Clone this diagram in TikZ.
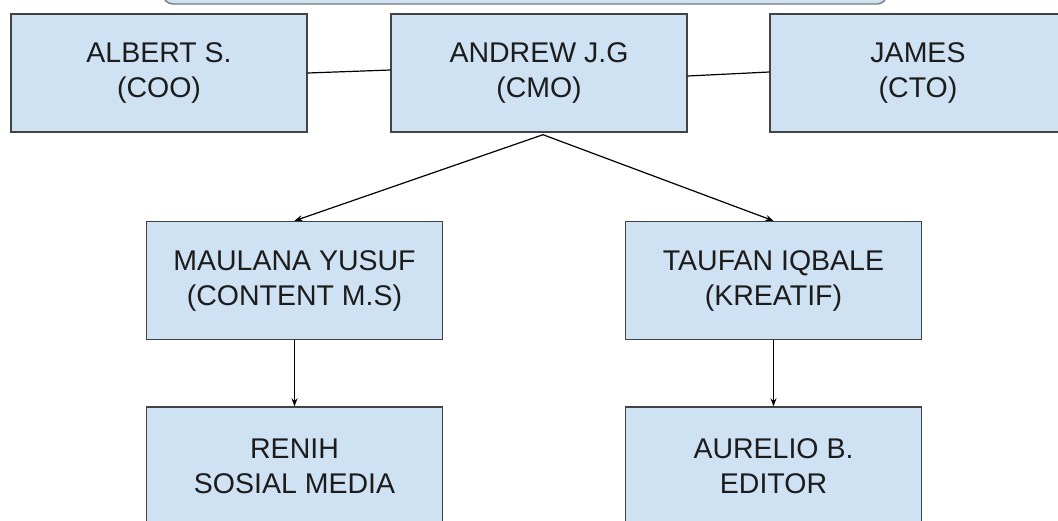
\documentclass[tikz,border=0pt]{standalone}
\usepackage{fontspec}
\setmainfont{Liberation Sans}
\usepackage{tikz}
\usetikzlibrary{arrows.meta}
\definecolor{boxblue}{HTML}{CFE2F3}
\definecolor{boxline}{HTML}{434343}
\definecolor{txt}{HTML}{1C1C1C}

\begin{document}
\begin{tikzpicture}[x=1pt, y=-1pt,
    staff/.style={draw=boxline, line width=1.4pt, fill=boxblue, text=txt,
      minimum width=296pt, minimum height=118pt, inner sep=0pt, align=center,
      font=\fontsize{28.5}{35}\selectfont},
    link/.style={line width=1.2pt, black},
    down/.style={link, -{Stealth[length=8pt, width=6pt]}}]
    \useasboundingbox (0,0) rectangle (1058,520);
    \clip (0,0) rectangle (1058,520);
    \fill [white] (0,0) rectangle (1058,520);
    \draw [draw=boxline!70, line width=1.4pt, fill=boxblue, rounded corners=10pt] (163,-40) rectangle (887,4);
    \node (coo) at (159,73) [staff] {ALBERT S.\\(COO)};
    \node (cmo) at (539,73) [staff] {ANDREW J.G\\(CMO)};
    \node (cto) at (918,73) [staff] {JAMES\\(CTO)};
    \node (cms) at (294.5,280.5) [staff] {MAULANA YUSUF\\(CONTENT M.S)};
    \node (kre) at (773.5,280.5) [staff] {TAUFAN IQBALE\\(KREATIF)};
    \node (sos) at (294.5,466) [staff] {RENIH\\SOSIAL MEDIA};
    \node (edi) at (773.5,466) [staff] {AURELIO B.\\EDITOR};
    \draw [link] (coo.east)--([yshift=3pt]cmo.west);
    \draw [link] ([yshift=-3pt]cmo.east)--([yshift=1pt]cto.west);
    \draw [down] ([xshift=4pt,yshift=-2pt]cmo.south)--(cms.north);
    \draw [down] ([xshift=4pt,yshift=-2pt]cmo.south)--(kre.north);
    \draw [down] (cms.south)--(sos.north);
    \draw [down] (kre.south)--(edi.north);
  \end{tikzpicture}
\end{document}
